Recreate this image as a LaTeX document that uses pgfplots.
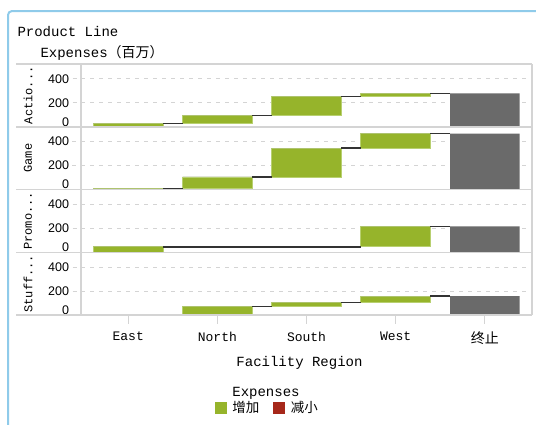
\documentclass[border=0pt]{standalone}
\usepackage{fontspec}
\usepackage{pgfplots}
\pgfplotsset{compat=1.18}
\setmainfont{Liberation Mono}
\newfontfamily\sansf{Liberation Sans}
\newfontfamily\cjk{Noto Sans CJK SC}

\definecolor{incgreen}{HTML}{96B42B}
\definecolor{incedge}{HTML}{B8D070}
\definecolor{decred}{HTML}{A6281A}
\definecolor{totgray}{HTML}{6A6A6A}
\definecolor{sepgray}{HTML}{D4D4D4}
\definecolor{frameblue}{HTML}{8FCBEA}

\pgfplotsset{
  row/.style={
    width=451pt, height=62.75pt, scale only axis,
    anchor=south west,
    xmin=-0.53, xmax=4.53, ymin=0, ymax=523,
    axis line style={draw=none},
    tick pos=left,
    ytick={0,200,400},
    yticklabels={\raisebox{10pt}{0},200,400},
    yticklabel style={font=\fontsize{12.5}{14}\sansf, anchor=east},
    ymajorgrids,
    grid style={sepgray, dash pattern=on 4pt off 5pt, line width=0.9pt},
    tick align=outside, major tick length=8.5pt,
    ytick style={sepgray, dash pattern=on 4pt off 5pt, line width=0.9pt},
    xtick=\empty,
    ylabel style={font=\fontsize{12}{14}\selectfont,
      at={(axis description cs:-0.1175,0.5)}, anchor=center},
    clip=false,
  },
  base/.style={ybar, stack plots=y, bar shift=0pt, bar width=0.78, draw=none, fill=none},
  inc/.style={ybar, stack plots=y, bar shift=0pt, bar width=0.78,
    fill=incgreen, draw=incedge, line width=0.8pt},
  tot/.style={ybar, stack plots=y, bar shift=0pt, bar width=0.78,
    fill=totgray, draw=none},
  conn/.style={black!80, line width=1.3pt, no marks, sharp plot},
}

\begin{document}
\begin{tikzpicture}
\useasboundingbox (0pt,0pt) rectangle (536pt,-424pt);

% Action
\begin{axis}[row, at={(81pt,-126.75pt)}, ylabel={Actio...}]
\addplot[base] coordinates {(0,0) (1,30) (2,92) (3,250) (4,0)};
\addplot[inc] coordinates {(0,30) (1,62) (2,158) (3,28) (4,0)};
\addplot[tot] coordinates {(0,0) (1,0) (2,0) (3,0) (4,278)};
\addplot[conn] coordinates {(0.39,30) (0.61,30)};
\addplot[conn] coordinates {(1.39,92) (1.61,92)};
\addplot[conn] coordinates {(2.39,250) (2.61,250)};
\addplot[conn] coordinates {(3.39,278) (3.61,278)};
\end{axis}

% Game
\begin{axis}[row, at={(81pt,-189.5pt)}, ylabel={Game}]
\addplot[base] coordinates {(0,0) (1,8) (2,105) (3,345) (4,0)};
\addplot[inc] coordinates {(0,8) (1,97) (2,240) (3,120) (4,0)};
\addplot[tot] coordinates {(0,0) (1,0) (2,0) (3,0) (4,465)};
\addplot[conn] coordinates {(0.39,8) (0.61,8)};
\addplot[conn] coordinates {(1.39,105) (1.61,105)};
\addplot[conn] coordinates {(2.39,345) (2.61,345)};
\addplot[conn] coordinates {(3.39,465) (3.61,465)};
\end{axis}

% Promo
\begin{axis}[row, at={(81pt,-252.25pt)}, ylabel={Promo...}]
\addplot[base] coordinates {(0,0) (1,45) (2,45) (3,45) (4,0)};
\addplot[inc] coordinates {(0,45) (1,0) (2,0) (3,170) (4,0)};
\addplot[tot] coordinates {(0,0) (1,0) (2,0) (3,0) (4,215)};
\addplot[conn] coordinates {(0.39,45) (2.61,45)};
\addplot[conn] coordinates {(3.39,215) (3.61,215)};
\end{axis}

% Stuff
\begin{axis}[row, at={(81pt,-315pt)}, ylabel={Stuff...},
  xtick={0,1,2,3,4},
  xticklabels={East,North,South,West,{\cjk\fontsize{14}{16}\selectfont 终止}},
  xtick style={sepgray, solid, line width=1pt},
  xticklabel style={font=\fontsize{13}{15}\selectfont, yshift=-5pt},
  xlabel={Facility Region},
  xlabel style={font=\fontsize{14}{16}\selectfont, yshift=-5pt, xshift=-7pt}]
\addplot[base] coordinates {(0,0) (1,6) (2,68) (3,105) (4,0)};
\addplot[inc] coordinates {(0,6) (1,62) (2,37) (3,53) (4,0)};
\addplot[tot] coordinates {(0,0) (1,0) (2,0) (3,0) (4,158)};
\addplot[conn] coordinates {(0.39,6) (0.61,6)};
\addplot[conn] coordinates {(1.39,68) (1.61,68)};
\addplot[conn] coordinates {(2.39,105) (2.61,105)};
\addplot[conn] coordinates {(3.39,158) (3.61,158)};
\end{axis}

% legend
\begin{axis}[at={(0pt,-424pt)}, anchor=south west, width=536pt, height=424pt,
  scale only axis, hide axis, xmin=0, xmax=536, ymin=0, ymax=424,
  legend columns=2,
  legend style={at={(axis description cs:0.499,0.0377)}, anchor=center,
    draw=none, fill=none, inner sep=0pt,
    font=\cjk\fontsize{13.5}{15}\selectfont,
    /tikz/every even column/.append style={column sep=12pt}},
  legend image code/.code={\fill[#1] (0pt,-5.5pt) rectangle (11pt,5.5pt);
    \path (15pt,0pt);}]
\addlegendimage{incgreen}
\addlegendentry{增加}
\addlegendimage{decred}
\addlegendentry{减小}
\end{axis}

% frame and separators
\foreach \y in {64,126.75,189.5,252.25,315}
  \draw[sepgray, line width=1.5pt] (16pt,-\y pt) -- (532pt,-\y pt);
\draw[sepgray, line width=1.5pt] (81pt,-64pt) -- (81pt,-315pt);
\draw[sepgray, line width=1.5pt] (532pt,-64pt) -- (532pt,-315pt);
\draw[frameblue, line width=2pt, rounded corners=4pt]
  (8pt,-440pt) -- (8pt,-11pt) -- (545pt,-11pt);

\node[anchor=base west, font=\fontsize{14}{16}\selectfont] at (14pt,-36pt) {Product Line};
\node[anchor=base west, font=\fontsize{14}{16}\selectfont] at (37pt,-57pt)
  {Expenses{\cjk （百万）}};
\node[anchor=base, font=\fontsize{14}{16}\selectfont] at (266pt,-396pt) {Expenses};
\end{tikzpicture}
\end{document}
